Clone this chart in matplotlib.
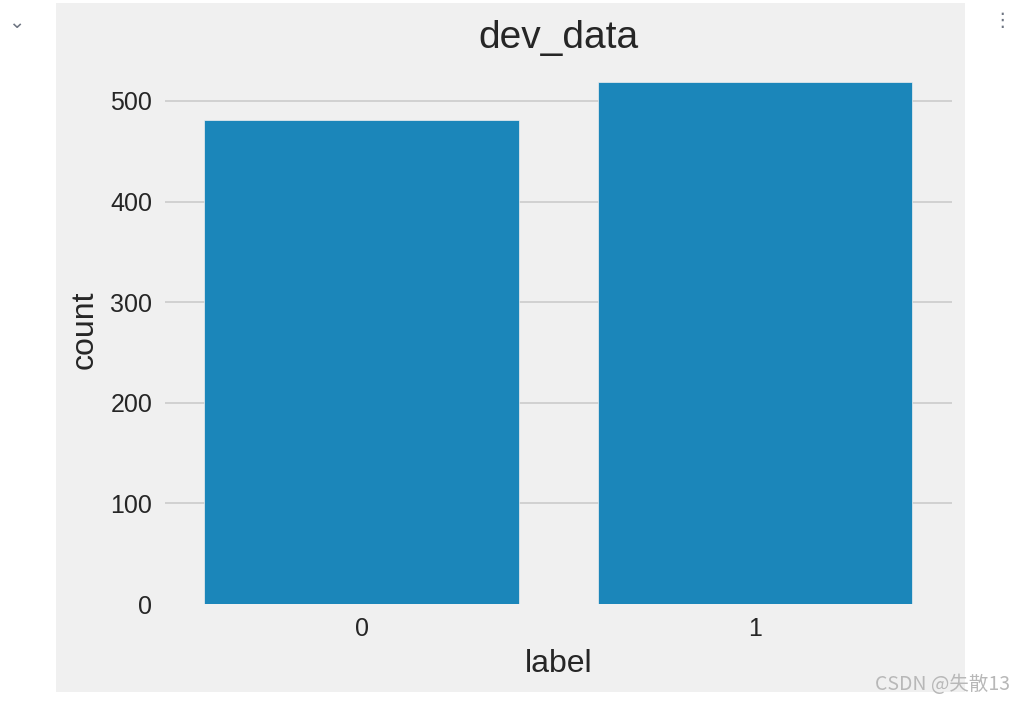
import matplotlib
matplotlib.use("Agg")
import matplotlib.pyplot as plt
from matplotlib.patches import Rectangle

categories = ["0", "1"]
counts = [481, 519]
yticks = [0, 100, 200, 300, 400, 500]

plt.rcParams['font.family'] = ['Liberation Sans', 'DejaVu Sans']

W, H = 1014, 702
fig = plt.figure(figsize=(W / 100, H / 100), dpi=100, facecolor='white')

# grey panel (notebook output area)
fig.patches.append(Rectangle((56 / W, 1 - 692 / H), (965 - 56) / W, (692 - 3) / H,
                             transform=fig.transFigure, facecolor='#f0f0f0',
                             edgecolor='none', zorder=-10))

left, right = 164.75 / W, 951.75 / W
bottom, top = 1 - 604 / H, 1 - 55.7 / H
ax = fig.add_axes([left, bottom, right - left, top - bottom])
ax.set_zorder(1)
ax.set_facecolor('#f0f0f0')

x = list(range(len(categories)))
ax.bar(x, counts, width=0.8, color='#1b86ba', edgecolor='#f0f0f0', linewidth=0.5, zorder=2)
ax.set_xlim(-0.5, len(categories) - 0.5)
ax.set_ylim(0, max(counts) * 1.05)
ax.set_xticks(x)
ax.set_xticklabels(categories)
ax.set_yticks(yticks)

for s in ax.spines.values():
    s.set_visible(False)
ax.yaxis.grid(True, color='#cbcbcb', linewidth=1.2, zorder=0)
ax.xaxis.grid(False)
ax.set_axisbelow(True)
ax.tick_params(axis='both', length=0, labelsize=18, labelcolor='#262626')
ax.tick_params(axis='y', pad=9)
ax.tick_params(axis='x', pad=9)
# hide the gridline sitting on the baseline
ax.get_ygridlines()[0].set_visible(False)

ax.set_title("dev_data", fontsize=28, color='#262626', pad=3)
ax.set_xlabel("label", fontsize=23, color='#262626', labelpad=6)
ax.set_ylabel("count", fontsize=23, color='#262626', labelpad=8)

# notebook UI decorations
fig.text(16 / W, 1 - 22 / H, "⌄", fontsize=14, color='#6e7582', ha='center', va='center',
         family=['DejaVu Sans'])
fig.text(1002 / W, 1 - 20 / H, "⋮", fontsize=14, color='#6e7582', ha='center', va='center',
         family=['DejaVu Sans'])
fig.text(1010 / W, 1 - 684 / H, "CSDN @失散13", fontsize=14, color='#b8b8b8', ha='right',
         va='center', family=['Noto Sans CJK SC', 'DejaVu Sans'])

fig.savefig("out.png", dpi=100, facecolor='white')
